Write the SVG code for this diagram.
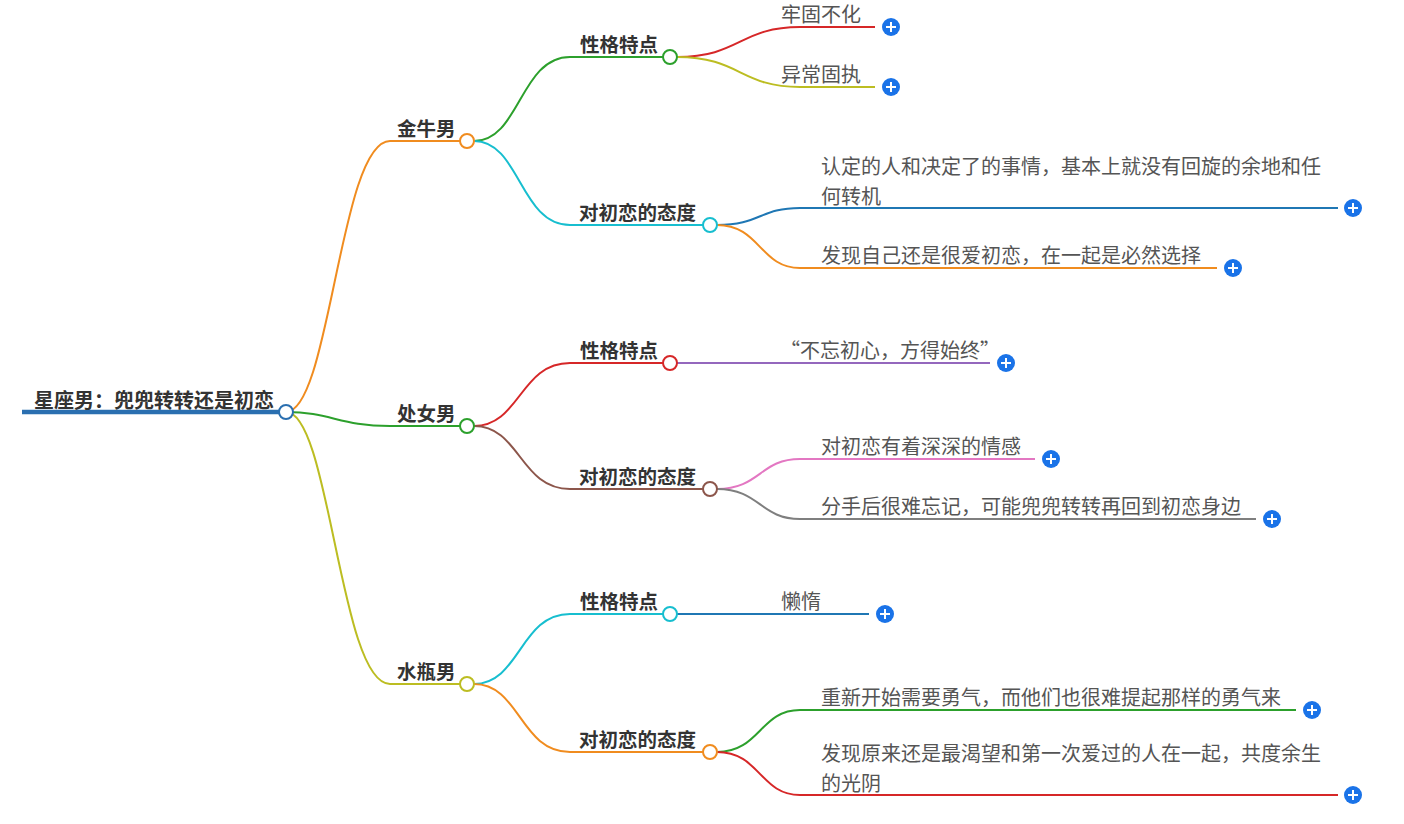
<svg xmlns="http://www.w3.org/2000/svg" width="1404" height="824" viewBox="0 0 1404 824">
<style>
text{font-family:"Noto Sans CJK SC","Noto Sans",sans-serif}
.b{font-size:19.5px;font-weight:bold;fill:#333}
.r{font-size:20px;font-weight:bold;fill:#333}
.l{font-size:20px;fill:#555}
path{fill:none;stroke-width:2}
circle.n{fill:#fff;stroke-width:2}
.p circle{fill:#1a73e8}
.p path{stroke:#fff;stroke-width:2}
</style>
<defs>
<g id="plus" class="p"><circle r="9"/><path d="M-5 0H5M0 -5V5"/></g>
</defs>
<g id="connectors">
<path d="M22 412H286" stroke="#2a6fb0" style="stroke-width:4.5"/>
<path d="M286 412C330 412 340 141 390 141H460" stroke="#f08c1f"/>
<path d="M286 412C330 412 340 426 390 426H460" stroke="#2ca02c"/>
<path d="M286 412C330 412 340 684 390 684H460" stroke="#bcbd22"/>
<path d="M474 141C520 141 520 57 570 57H663" stroke="#2ca02c"/>
<path d="M474 141C520 141 520 225 570 225H703" stroke="#17becf"/>
<path d="M474 426C520 426 520 363 570 363H663" stroke="#d62728"/>
<path d="M474 426C520 426 520 489 570 489H703" stroke="#8c564b"/>
<path d="M474 684C520 684 520 614 570 614H663" stroke="#17becf"/>
<path d="M474 684C520 684 520 752 570 752H703" stroke="#f08c1f"/>
<path d="M677 57C740 57 740 27 800 27H875" stroke="#d62728"/>
<path d="M677 57C740 57 740 87 800 87H875" stroke="#bcbd22"/>
<path d="M717 225C760 225 760 208 800 208H1338" stroke="#1f77b4"/>
<path d="M717 225C760 225 760 268 800 268H1217" stroke="#f08c1f"/>
<path d="M677 363C720 363 720 363 760 363H990" stroke="#9467bd"/>
<path d="M717 489C760 489 760 459 800 459H1035" stroke="#e377c2"/>
<path d="M717 489C760 489 760 519 800 519H1256" stroke="#7f7f7f"/>
<path d="M677 614C720 614 720 614 760 614H869" stroke="#1f77b4"/>
<path d="M717 752C760 752 760 710 800 710H1296" stroke="#2ca02c"/>
<path d="M717 752C760 752 760 795 800 795H1338" stroke="#d62728"/>
</g>
<g id="root"><text class="r" x="34" y="408">星座男：兜兜转转还是初恋</text><circle class="n" cx="286" cy="412" r="7" stroke="#2a6fb0"/></g>
<g id="jinniu"><text class="b" x="397" y="136">金牛男</text><circle class="n" cx="467" cy="141" r="7" stroke="#f08c1f"/></g>
<g id="chunv"><text class="b" x="397" y="421">处女男</text><circle class="n" cx="467" cy="426" r="7" stroke="#2ca02c"/></g>
<g id="shuiping"><text class="b" x="397" y="679">水瓶男</text><circle class="n" cx="467" cy="684" r="7" stroke="#bcbd22"/></g>
<g id="jn-xg"><text class="b" x="580" y="52">性格特点</text><circle class="n" cx="670" cy="57" r="7" stroke="#2ca02c"/></g>
<g id="jn-td"><text class="b" x="579" y="220">对初恋的态度</text><circle class="n" cx="710" cy="225" r="7" stroke="#17becf"/></g>
<g id="cn-xg"><text class="b" x="580" y="358">性格特点</text><circle class="n" cx="670" cy="363" r="7" stroke="#d62728"/></g>
<g id="cn-td"><text class="b" x="579" y="484">对初恋的态度</text><circle class="n" cx="710" cy="489" r="7" stroke="#8c564b"/></g>
<g id="sp-xg"><text class="b" x="580" y="609">性格特点</text><circle class="n" cx="670" cy="614" r="7" stroke="#17becf"/></g>
<g id="sp-td"><text class="b" x="579" y="747">对初恋的态度</text><circle class="n" cx="710" cy="752" r="7" stroke="#f08c1f"/></g>
<g id="l1"><text class="l" x="781" y="22">牢固不化</text><use href="#plus" x="891" y="27"/></g>
<g id="l2"><text class="l" x="781" y="82">异常固执</text><use href="#plus" x="891" y="87"/></g>
<g id="l3"><text class="l" x="821" y="174">认定的人和决定了的事情，基本上就没有回旋的余地和任</text><text class="l" x="821" y="204">何转机</text><use href="#plus" x="1353" y="208"/></g>
<g id="l4"><text class="l" x="821" y="263">发现自己还是很爱初恋，在一起是必然选择</text><use href="#plus" x="1233" y="268"/></g>
<g id="l5"><text class="l" x="780" y="358">“不忘初心，方得始终”</text><use href="#plus" x="1006" y="363"/></g>
<g id="l6"><text class="l" x="821" y="454">对初恋有着深深的情感</text><use href="#plus" x="1051" y="459"/></g>
<g id="l7"><text class="l" x="821" y="514">分手后很难忘记，可能兜兜转转再回到初恋身边</text><use href="#plus" x="1272" y="519"/></g>
<g id="l8"><text class="l" x="781" y="609">懒惰</text><use href="#plus" x="885" y="614"/></g>
<g id="l9"><text class="l" x="821" y="705">重新开始需要勇气，而他们也很难提起那样的勇气来</text><use href="#plus" x="1312" y="710"/></g>
<g id="l10"><text class="l" x="821" y="761">发现原来还是最渴望和第一次爱过的人在一起，共度余生</text><text class="l" x="821" y="791">的光阴</text><use href="#plus" x="1353" y="795"/></g>
</svg>
